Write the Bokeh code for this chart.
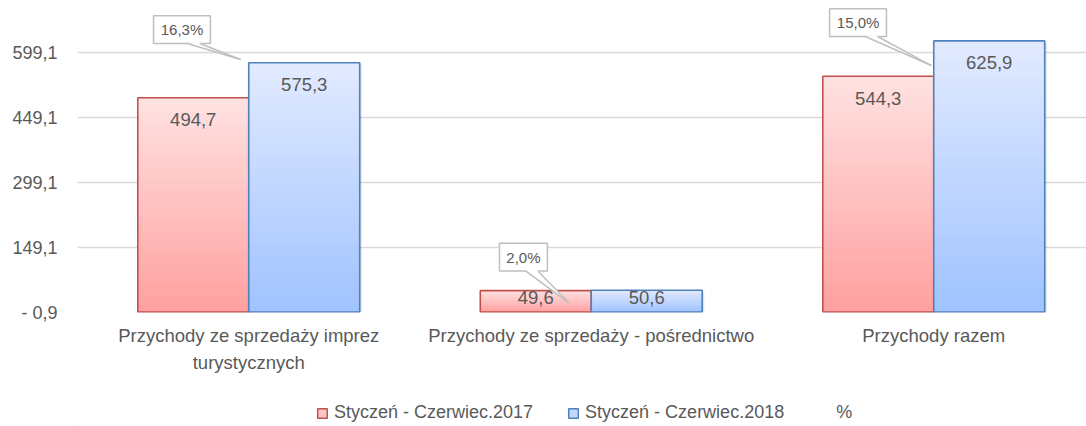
import numpy as np
from bokeh.plotting import figure
from bokeh.layouts import column
from bokeh.models import ColumnDataSource, Range1d, FixedTicker, Legend, LegendItem
from bokeh.core.properties import value
from bokeh.embed import file_html
from bokeh.resources import INLINE

# ---------------- data ----------------
categories = ["Przychody ze sprzedaży imprez\nturystycznych",
              "Przychody ze sprzedaży - pośrednictwo",
              "Przychody razem"]
series_names = ["Styczeń - Czerwiec.2017", "Styczeń - Czerwiec.2018", "%"]
values_2017 = [494.7, 49.6, 544.3]
values_2018 = [575.3, 50.6, 625.9]
pct_change = [16.3, 2.0, 15.0]
y_ticks = [-0.9, 149.1, 299.1, 449.1, 599.1]
y_tick_labels = ["- 0,9", "149,1", "299,1", "449,1", "599,1"]

# ---------------- style ----------------
FONT = "Liberation Sans"
TXT = "#595959"
GRID = "#D9D9D9"
RED_LINE, BLUE_LINE = "#C0504D", "#4F81BD"
RED_TOP, RED_BOT = (255, 226, 226), (255, 160, 160)
BLUE_TOP, BLUE_BOT = (226, 235, 255), (160, 194, 255)
BAR_W = 0.324
N_SLICES = 40
VAL_OFFSETS = [22, 7, 22]           # px below bar top for value labels
# callout geometry (category-relative x, data y)
BOX_DX = [-0.195, -0.198, -0.221]
BOX_Y = [652.0, 127.0, 668.0]
BOX_W = [0.166, 0.140, 0.166]
BOX_H = 64.0
BASE_DX = [0.034, 0.024, 0.039]
BASE_HW = 0.018
TIP_DX = [-0.024, -0.066, -0.007]
TIP_Y = [583.0, 22.0, 569.0]
LEGEND_X = 239

def fmt(v, suffix=""):
    return f"{v:.1f}".replace(".", ",") + suffix

cx = np.arange(len(categories)) + 0.5

p = figure(width=1086, height=386, x_range=Range1d(0, 2.946), y_range=Range1d(-0.9, 719.1),
           output_backend="svg", toolbar_location=None,
           min_border_left=77, min_border_right=0, min_border_top=0, min_border_bottom=74)
p.outline_line_color = None
p.background_fill_color = "white"
p.xgrid.grid_line_color = None
p.ygrid.ticker = FixedTicker(ticks=y_ticks)
p.ygrid.grid_line_color = GRID
p.ygrid.grid_line_width = 1.5

p.yaxis.ticker = FixedTicker(ticks=y_ticks)
p.yaxis.major_label_overrides = dict(zip(y_ticks, y_tick_labels))
p.yaxis.axis_line_color = None
p.yaxis.major_tick_line_color = None
p.yaxis.minor_tick_line_color = None
p.yaxis.major_tick_out = 0
p.yaxis.minor_tick_out = 0
p.yaxis.major_label_standoff = 20
p.yaxis.major_label_text_font = FONT
p.yaxis.major_label_text_font_size = "18px"
p.yaxis.major_label_text_color = TXT

p.xaxis.ticker = FixedTicker(ticks=list(cx))
p.xaxis.major_label_overrides = {float(c): lab for c, lab in zip(cx, categories)}
p.xaxis.axis_line_color = None
p.xaxis.major_tick_line_color = None
p.xaxis.minor_tick_line_color = None
p.xaxis.major_tick_out = 0
p.xaxis.minor_tick_out = 0
p.xaxis.major_label_standoff = 12
p.xaxis.major_label_text_font = FONT
p.xaxis.major_label_text_font_size = "18.5px"
p.xaxis.major_label_text_color = TXT
p.xaxis.major_label_text_line_height = 1.3


def gradient_bars(xs, vals, top_c, bot_c, line_c):
    X, T, C = [], [], []
    for j in reversed(range(N_SLICES)):
        t = (j + 0.5) / N_SLICES
        col = tuple(int(round(b + (a - b) * t)) for a, b in zip(top_c, bot_c))
        hexc = "#%02x%02x%02x" % col
        for x, v in zip(xs, vals):
            X.append(x)
            T.append(v * (j + 1) / N_SLICES)
            C.append(hexc)
    src = ColumnDataSource(dict(x=X, top=T, color=C))
    p.vbar(x="x", top="top", bottom=0, width=BAR_W, fill_color="color", line_color=None, source=src)
    p.vbar(x=list(xs), top=list(vals), bottom=0, width=BAR_W, fill_color=None,
           line_color=line_c, line_width=1.6)

x17 = cx - BAR_W / 2
x18 = cx + BAR_W / 2
# soft shadow
for xs, vals in ((x17, values_2017), (x18, values_2018)):
    p.vbar(x=list(xs + 0.006), top=[v - 4 for v in vals], bottom=-6, width=BAR_W,
           fill_color="#000000", fill_alpha=0.10, line_color=None)
gradient_bars(x17, values_2017, RED_TOP, RED_BOT, RED_LINE)
gradient_bars(x18, values_2018, BLUE_TOP, BLUE_BOT, BLUE_LINE)

# value labels
for xs, vals in ((x17, values_2017), (x18, values_2018)):
    src = ColumnDataSource(dict(x=list(xs), y=list(vals), t=[fmt(v) for v in vals], off=VAL_OFFSETS))
    p.text(x="x", y="y", text="t", y_offset="off", source=src, text_align="center",
           text_baseline="middle", text_font=value(FONT), text_font_size="18.5px", text_color=TXT)

# percent callouts
bx = cx + np.array(BOX_DX)
p.quad(left=list(bx - np.array(BOX_W) / 2), right=list(bx + np.array(BOX_W) / 2),
       bottom=[y - BOX_H / 2 for y in BOX_Y], top=[y + BOX_H / 2 for y in BOX_Y],
       fill_color="white", line_color="#BFBFBF", line_width=1.5)
tri_xs, tri_ys, side_xs, side_ys = [], [], [], []
for i in range(len(categories)):
    b = bx[i] + BASE_DX[i]
    yb = BOX_Y[i] - BOX_H / 2
    tx, ty = cx[i] + TIP_DX[i], TIP_Y[i]
    tri_xs.append([b - BASE_HW, b + BASE_HW, tx])
    tri_ys.append([yb + 2, yb + 2, ty])
    side_xs += [[b - BASE_HW, tx], [b + BASE_HW, tx]]
    side_ys += [[yb, ty], [yb, ty]]
p.patches(xs=tri_xs, ys=tri_ys, fill_color="white", line_color=None)
p.multi_line(xs=side_xs, ys=side_ys, line_color="#BFBFBF", line_width=1.5)
p.text(x=list(bx), y=BOX_Y, text=[fmt(v, "%") for v in pct_change], text_align="center",
       text_baseline="middle", text_font=value(FONT), text_font_size="15px", text_color=TXT)

# legend strip
p2 = figure(width=1086, height=40, x_range=Range1d(0, 1), y_range=Range1d(0, 1),
            output_backend="svg", toolbar_location=None,
            x_axis_location=None, y_axis_location=None,
            min_border_left=0, min_border_right=0, min_border_top=0, min_border_bottom=0)
p2.grid.grid_line_color = None
p2.outline_line_color = None
r1 = p2.vbar(x=[-5], top=[-5], bottom=-6, width=0.1, fill_color="#FFC4C4", line_color=RED_LINE, line_width=1.5)
r2 = p2.vbar(x=[-5], top=[-5], bottom=-6, width=0.1, fill_color="#C4D8FF", line_color=BLUE_LINE, line_width=1.5)
r3 = p2.line(x=[-5, -4], y=[-5, -5], line_alpha=0)
legend = Legend(items=[LegendItem(label=series_names[0], renderers=[r1]),
                       LegendItem(label=series_names[1], renderers=[r2]),
                       LegendItem(label=series_names[2], renderers=[r3])],
                orientation="horizontal", location=(LEGEND_X, 3),
                glyph_width=12, glyph_height=12, label_standoff=6, spacing=34,
                padding=0, margin=0, border_line_color=None, background_fill_alpha=0,
                label_text_font=FONT, label_text_font_size="18px", label_text_color=TXT)
p2.add_layout(legend, "center")

open("out.html", "w").write(file_html(column(p, p2, spacing=0), INLINE))
